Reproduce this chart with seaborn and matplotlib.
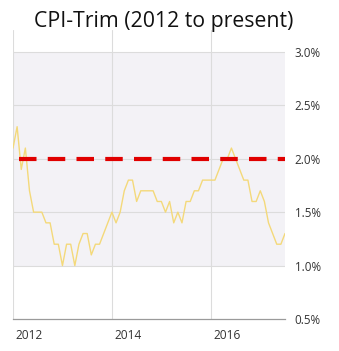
import matplotlib
matplotlib.use("Agg")
import matplotlib.pyplot as plt
import matplotlib.transforms as mtransforms
import seaborn as sns
import numpy as np
import pandas as pd

# Monthly CPI-Trim values (%), Jan 2012 onwards
start_year = 2012
cpi_trim = [2.1, 2.3, 1.9, 2.1, 1.7, 1.5, 1.5, 1.5, 1.4, 1.4, 1.2, 1.2,
            1.0, 1.2, 1.2, 1.0, 1.2, 1.3, 1.3, 1.1, 1.2, 1.2, 1.3, 1.4,
            1.5, 1.4, 1.5, 1.7, 1.8, 1.8, 1.6, 1.7, 1.7, 1.7, 1.7, 1.6,
            1.6, 1.5, 1.6, 1.4, 1.5, 1.4, 1.6, 1.6, 1.7, 1.7, 1.8, 1.8,
            1.8, 1.8, 1.9, 2.0, 2.0, 2.1, 2.0, 1.9, 1.8, 1.8, 1.6, 1.6,
            1.7, 1.6, 1.4, 1.3, 1.2, 1.2, 1.3]
target = 2.0
band = [1.0, 3.0]
x_ticks = [2012, 2014, 2016]
y_ticks = [0.5, 1.0, 1.5, 2.0, 2.5, 3.0]
title = "CPI-Trim (2012 to present)"

months = np.arange(len(cpi_trim))
df = pd.DataFrame({"t": start_year + months / 12.0, "v": cpi_trim})

sns.set_style("white")
plt.rcParams['font.family'] = ['Open Sans', 'DejaVu Sans']

fig = plt.figure(figsize=(3.39, 3.51), dpi=100)
ax = fig.add_axes([13/339, 1 - 319/351, (285 - 13)/339, (319 - 30)/351])

ax.axhspan(band[0], band[1], color="#f3f2f6", zorder=0, lw=0)
for yt in y_ticks[1:]:
    ax.axhline(yt, color="#dcdcdc", lw=0.8, zorder=1)
for xt in x_ticks:
    ax.axvline(xt, color="#dcdcdc", lw=0.8, zorder=1)

sns.lineplot(data=df, x="t", y="v", ax=ax, color="#f3d97a", lw=1.0, zorder=3)
ax.plot([start_year + 1.5/12, df["t"].iloc[-1]], [target, target], color="#e00000",
        lw=3, dashes=(4.2, 2.7), zorder=4, solid_capstyle="butt", dash_capstyle="butt")

ax.set_xlim(start_year, df["t"].iloc[-1])
ax.set_ylim(0.5, 3.205)
ax.set_xlabel("")
ax.set_ylabel("")

for s in ["left", "top", "right"]:
    ax.spines[s].set_visible(False)
ax.spines["bottom"].set_color("#9a9a9a")
ax.spines["bottom"].set_linewidth(0.9)

ax.set_xticks(x_ticks)
ax.set_xticklabels([str(x) for x in x_ticks], ha="left")
ax.tick_params(axis="x", direction="out", length=4, width=0.8, color="#9a9a9a",
               labelsize=8.6, labelcolor="#333333", pad=3)
offset = mtransforms.ScaledTranslation(2.5/100, 0, fig.dpi_scale_trans)
for lbl in ax.get_xticklabels():
    lbl.set_transform(lbl.get_transform() + offset)

ax.yaxis.tick_right()
ax.set_yticks(y_ticks)
ax.set_yticklabels([f"{y:.1f}%" for y in y_ticks])
ax.tick_params(axis="y", length=0, labelsize=8.4, labelcolor="#333333", pad=7)

fig.text(164/339, 1 - 21/351, title, ha="center", va="center", fontsize=15.3,
         color="#111111")

fig.savefig("out.png", dpi=100, facecolor="white")
